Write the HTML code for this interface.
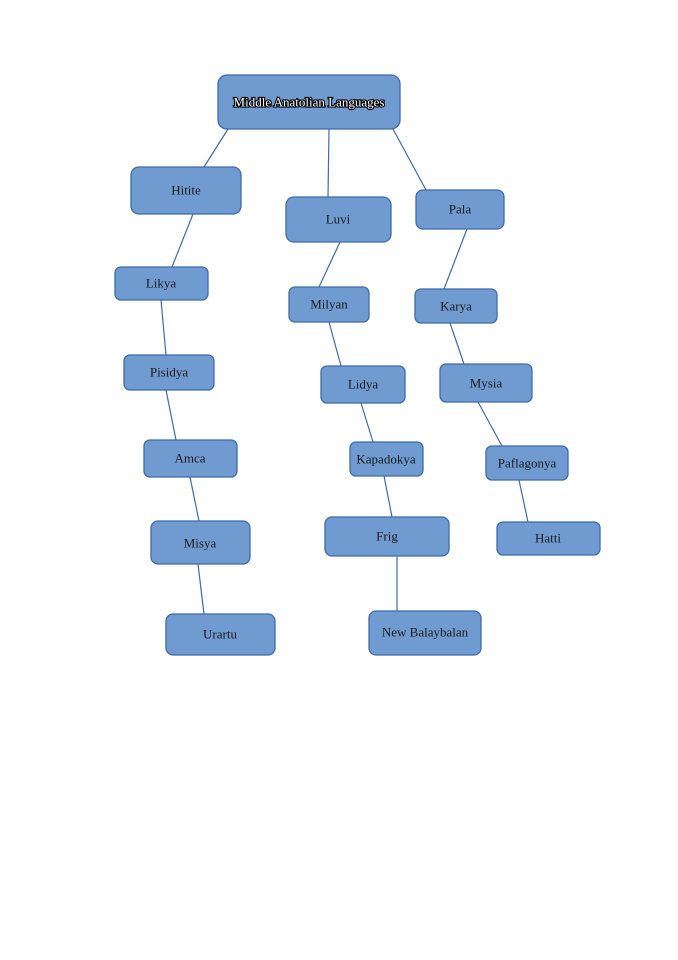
<!DOCTYPE html>
<html><head><meta charset="utf-8"><style>
html,body{margin:0;padding:0;background:#fff;width:678px;height:960px;overflow:hidden}
svg{display:block}
text{font-family:"Liberation Serif",serif;font-size:13px;fill:#1a1a1a;text-anchor:middle;dominant-baseline:central}
rect{fill:#6f9bd0;stroke:#3f6ba6;stroke-width:1.3}
line{stroke:#3f6ba6;stroke-width:1.2}
</style></head><body>
<svg width="678" height="960" viewBox="0 0 678 960">
<line x1="228" y1="129" x2="204" y2="167"/>
<line x1="329" y1="129" x2="328" y2="197"/>
<line x1="393" y1="129" x2="426" y2="190"/>
<line x1="193" y1="214" x2="172" y2="267"/>
<line x1="161" y1="300" x2="166" y2="355"/>
<line x1="166" y1="390" x2="176" y2="440"/>
<line x1="190" y1="477" x2="199" y2="521"/>
<line x1="198" y1="564" x2="204" y2="614"/>
<line x1="340" y1="242" x2="319" y2="287"/>
<line x1="329" y1="322" x2="341" y2="366"/>
<line x1="361" y1="403" x2="373" y2="442"/>
<line x1="384" y1="476" x2="392" y2="517"/>
<line x1="397" y1="556" x2="397" y2="611"/>
<line x1="467" y1="229" x2="444" y2="289"/>
<line x1="450" y1="323" x2="464" y2="364"/>
<line x1="478" y1="402" x2="502" y2="446"/>
<line x1="519" y1="480" x2="528" y2="522"/>

<rect x="218" y="75" width="182" height="54" rx="9"/>
<text x="309" y="102" style="fill:#fff;stroke:#000;stroke-width:2.2px;paint-order:stroke">Middle Anatolian Languages</text>
<rect x="131" y="167" width="110" height="47" rx="8"/><text x="186" y="190">Hitite</text>
<rect x="286" y="197" width="105" height="45" rx="8"/><text x="338" y="219">Luvi</text>
<rect x="416" y="190" width="88" height="39" rx="7"/><text x="460" y="209">Pala</text>
<rect x="115" y="267" width="93" height="33" rx="6"/><text x="161" y="283">Likya</text>
<rect x="289" y="287" width="80" height="35" rx="6"/><text x="329" y="304">Milyan</text>
<rect x="415" y="289" width="82" height="34" rx="6"/><text x="456" y="306">Karya</text>
<rect x="124" y="355" width="90" height="35" rx="6"/><text x="169" y="372">Pisidya</text>
<rect x="321" y="366" width="84" height="37" rx="6"/><text x="363" y="384">Lidya</text>
<rect x="440" y="364" width="92" height="38" rx="6"/><text x="486" y="383">Mysia</text>
<rect x="144" y="440" width="93" height="37" rx="6"/><text x="190" y="458">Amca</text>
<rect x="350" y="442" width="73" height="34" rx="6"/><text x="386" y="459">Kapadokya</text>
<rect x="486" y="446" width="82" height="34" rx="6"/><text x="527" y="463">Paflagonya</text>
<rect x="151" y="521" width="99" height="43" rx="7"/><text x="200" y="543">Misya</text>
<rect x="325" y="517" width="124" height="39" rx="7"/><text x="387" y="536">Frig</text>
<rect x="497" y="522" width="103" height="33" rx="6"/><text x="548" y="538">Hatti</text>
<rect x="166" y="614" width="109" height="41" rx="7"/><text x="220" y="634">Urartu</text>
<rect x="369" y="611" width="112" height="44" rx="7"/><text x="425" y="632">New Balaybalan</text>
</svg>
</body></html>
